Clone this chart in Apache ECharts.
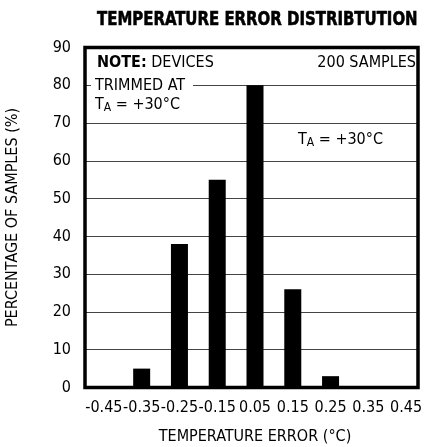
<!DOCTYPE html>
<html>
<head>
<meta charset="utf-8">
<script src="https://cdn.jsdelivr.net/npm/echarts@6/dist/echarts.min.js"></script>
<style>html,body{margin:0;padding:0;background:#fff;}#c{width:424px;height:447px;}</style>
</head>
<body>
<div id="c"></div>
<script>
const categories = ['-0.45', '-0.35', '-0.25', '-0.15', '0.05', '0.15', '0.25', '0.35', '0.45'];
const percentages = [0, 5, 38, 55, 80, 26, 3, 0, 0];
const yTicks = { min: 0, max: 90, interval: 10 };
const titleText = 'TEMPERATURE ERROR DISTRIBTUTION';
const xName = 'TEMPERATURE ERROR (°C)';
const yName = 'PERCENTAGE OF SAMPLES (%)';

const FONT = '"Liberation Sans Narrow", "DejaVu Sans Condensed", "Roboto", sans-serif';

const chart = echarts.init(document.getElementById('c'), null, { renderer: 'canvas' });
chart.setOption({
  animation: false,
  backgroundColor: '#fff',
  textStyle: { fontFamily: FONT },
  grid: [
    { left: 85, top: 47.5, width: 340, height: 340,
      outerBoundsMode: 'none', containLabel: false, show: false },
    { left: 85, top: 47.5, width: 333, height: 340, z: 5,
      outerBoundsMode: 'none', containLabel: false,
      show: true, borderColor: '#000', borderWidth: 3.5, backgroundColor: 'transparent' }
  ],
  xAxis: [{
    type: 'category',
    gridIndex: 0,
    data: categories,
    axisLine: { show: false },
    axisTick: { show: false },
    axisLabel: { color: '#000', fontSize: 16, margin: 12, interval: 0, fontFamily: FONT },
    name: xName,
    nameLocation: 'middle',
    nameGap: 41,
    nameTextStyle: { color: '#000', fontSize: 16, fontFamily: FONT }
  }, {
    type: 'value', gridIndex: 1, show: false
  }],
  yAxis: [{
    type: 'value',
    gridIndex: 0,
    min: yTicks.min, max: yTicks.max, interval: yTicks.interval,
    axisLine: { show: false },
    axisTick: { show: false },
    splitLine: { show: false },
    axisLabel: { color: '#000', fontSize: 16, margin: 14, fontFamily: FONT },
    name: yName,
    nameLocation: 'middle',
    nameRotate: 90,
    nameGap: 64,
    nameTextStyle: { color: '#000', fontSize: 16, fontFamily: FONT }
  }, {
    type: 'value', gridIndex: 1,
    min: yTicks.min, max: yTicks.max, interval: yTicks.interval,
    axisLine: { show: false },
    axisTick: { show: false },
    axisLabel: { show: false },
    splitLine: { show: true, lineStyle: { color: '#444', width: 1 } }
  }],
  series: [{
    type: 'bar',
    xAxisIndex: 0, yAxisIndex: 0,
    data: percentages,
    barWidth: 17,
    itemStyle: { color: '#000' },
    z: 3
  }],
  graphic: [
    { type: 'text', x: 97, y: 10, scaleX: 0.83, z: 10,
      style: { text: titleText, font: 'bold 20px ' + FONT, fill: '#000',
        stroke: '#000', lineWidth: 0.6 } },
    { type: 'text', left: 97, top: 55, z: 10,
      style: { text: '{b|NOTE:} DEVICES', font: '16px ' + FONT, fill: '#000',
        rich: { b: { fontWeight: 'bold', fontSize: 16, fontFamily: FONT } } } },
    { type: 'text', right: 8, top: 55, z: 10,
      style: { text: '200 SAMPLES', font: '16px ' + FONT, fill: '#000' } },
    { type: 'text', left: 91, top: 77, z: 10,
      style: { text: 'TRIMMED AT', font: '16px ' + FONT, fill: '#000',
        backgroundColor: '#fff', padding: [1, 8, 1, 4] } },
    { type: 'text', left: 95, top: 97, z: 10,
      style: { text: 'T{s|A} = +30°C', font: '16px ' + FONT, fill: '#000',
        rich: { s: { fontSize: 12, fontFamily: FONT, verticalAlign: 'bottom', padding: [6, 0, 0, 0] } } } },
    { type: 'text', left: 298, top: 132, z: 10,
      style: { text: 'T{s|A} = +30°C', font: '16px ' + FONT, fill: '#000',
        rich: { s: { fontSize: 12, fontFamily: FONT, verticalAlign: 'bottom', padding: [6, 0, 0, 0] } } } }
  ]
});
</script>
</body>
</html>
